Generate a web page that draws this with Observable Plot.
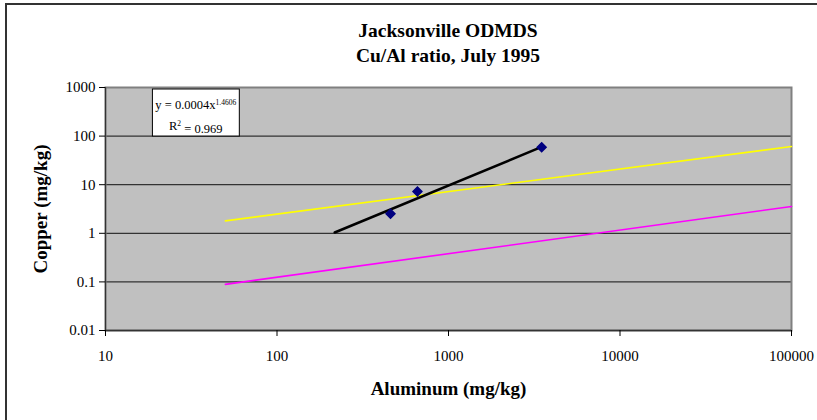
<!DOCTYPE html>
<html>
<head>
<meta charset="utf-8">
<script src="https://cdn.jsdelivr.net/npm/d3@7"></script>
<script src="https://cdn.jsdelivr.net/npm/@observablehq/plot@0.6"></script>
<style>
  html, body { margin: 0; padding: 0; background: #fff; overflow: hidden; }
  #wrap { position: relative; width: 817px; height: 420px; font-family: "Liberation Serif", "Times New Roman", serif; }
  #border { position: absolute; left: 5px; top: 3px; width: 820px; height: 430px; border-left: 2px solid #333; border-top: 2px solid #333; box-sizing: border-box; pointer-events: none; }
  #title { position: absolute; left: 448px; top: 18px; transform: translateX(-50%); text-align: center; font-weight: bold; font-size: 19.5px; line-height: 25px; color: #000; white-space: nowrap; }
  #chart { position: absolute; left: 0; top: 0; }
</style>
</head>
<body>
<div id="wrap">
  <div id="chart"></div>
  <div id="border"></div>
  <div id="title">Jacksonville ODMDS<br>Cu/Al ratio, July 1995</div>
</div>
<script>
// Measured samples (Aluminum, Copper; mg/kg)
const aluminum = [459, 659, 3493];
const copper = [2.52, 7.24, 59.1];

// Power trendline y = 0.0004x^1.4606 (end points)
const trendX = [217, 3493];
const trendY = [1.04, 59.8];

// Reference ratio lines (end points)
const yellowX = [50, 100000];
const yellowY = [1.8, 61];
const magentaX = [50, 100000];
const magentaY = [0.089, 3.56];

// Axis ticks
const xTicks = [10, 100, 1000, 10000, 100000];
const yTicks = [0.01, 0.1, 1, 10, 100, 1000];
const xLabel = "Aluminum (mg/kg)";
const yLabel = "Copper (mg/kg)";

// Equation annotation
const eqBase = ["y = 0.0004x", "R"];
const eqExp = ["1.4606", "2"];
const eqTail = ["", " = 0.969"];
const eqX = [33.6, 33.6];
const eqY = [430, 158];
const boxX = [18.9, 60.7];
const boxY = [98, 910];

const points = aluminum.map((a, i) => ({x: a, y: copper[i]}));
const toLine = (xs, ys) => xs.map((x, i) => ({x, y: ys[i]}));

const plot = Plot.plot({
  width: 817,
  height: 420,
  marginLeft: 105,
  marginRight: 26,
  marginTop: 87,
  marginBottom: 90,
  style: {fontFamily: "'Liberation Serif', 'Times New Roman', serif", fontSize: "15px", color: "#000", background: "transparent"},
  x: {type: "log", domain: [10, 100000]},
  y: {type: "log", domain: [0.01, 1000]},
  marks: [
    Plot.frame({fill: "#c0c0c0"}),
    Plot.ruleY(yTicks, {stroke: "#333", strokeWidth: 1.2}),
    Plot.frame({stroke: "#808080", strokeWidth: 2}),
    Plot.ruleX([10], {stroke: "#333", strokeWidth: 1.2}),
    Plot.ruleY([0.01], {stroke: "#333", strokeWidth: 1.5}),
    Plot.axisX({ticks: xTicks, tickFormat: d => String(d), tickSize: 6, tickPadding: 14, fontSize: 15, label: null}),
    Plot.axisY({ticks: yTicks, tickFormat: d => String(d), tickSize: 6, tickPadding: 4, fontSize: 15, label: null}),
    Plot.line(toLine(yellowX, yellowY), {x: "x", y: "y", stroke: "#ffff00", strokeWidth: 1.6}),
    Plot.line(toLine(magentaX, magentaY), {x: "x", y: "y", stroke: "#ff00ff", strokeWidth: 1.6}),
    Plot.line(toLine(trendX, trendY), {x: "x", y: "y", stroke: "#000", strokeWidth: 2.5}),
    Plot.dot(points, {x: "x", y: "y", symbol: "diamond2", fill: "#000080", stroke: "#000080", r: 4}),
    Plot.rect([{}], {x1: () => boxX[0], x2: () => boxX[1], y1: () => boxY[0], y2: () => boxY[1], fill: "#fff", stroke: "#000", strokeWidth: 1}),
    Plot.text(eqBase, {x: (d, i) => eqX[i], y: (d, i) => eqY[i], text: d => d, fontSize: 12.5, fill: "#000", className: "eq"}),
    Plot.text([xLabel], {frameAnchor: "bottom", textAnchor: "middle", dy: 64, text: d => d, fontSize: 19, fontWeight: "bold"}),
    Plot.text([yLabel], {frameAnchor: "left", textAnchor: "middle", dx: -65, rotate: -90, text: d => d, fontSize: 19, fontWeight: "bold"})
  ]
});

d3.select(plot).selectAll(".eq text").each(function(d, i) {
  const el = d3.select(this);
  el.text(eqBase[i]);
  el.append("tspan").attr("dy", "-0.55em").attr("font-size", "7.5").attr("fill", "#000").text(eqExp[i]);
  if (eqTail[i]) el.append("tspan").attr("dy", "0.55em").attr("fill", "#000").text(eqTail[i]);
});

document.getElementById("chart").appendChild(plot);
</script>
</body>
</html>
